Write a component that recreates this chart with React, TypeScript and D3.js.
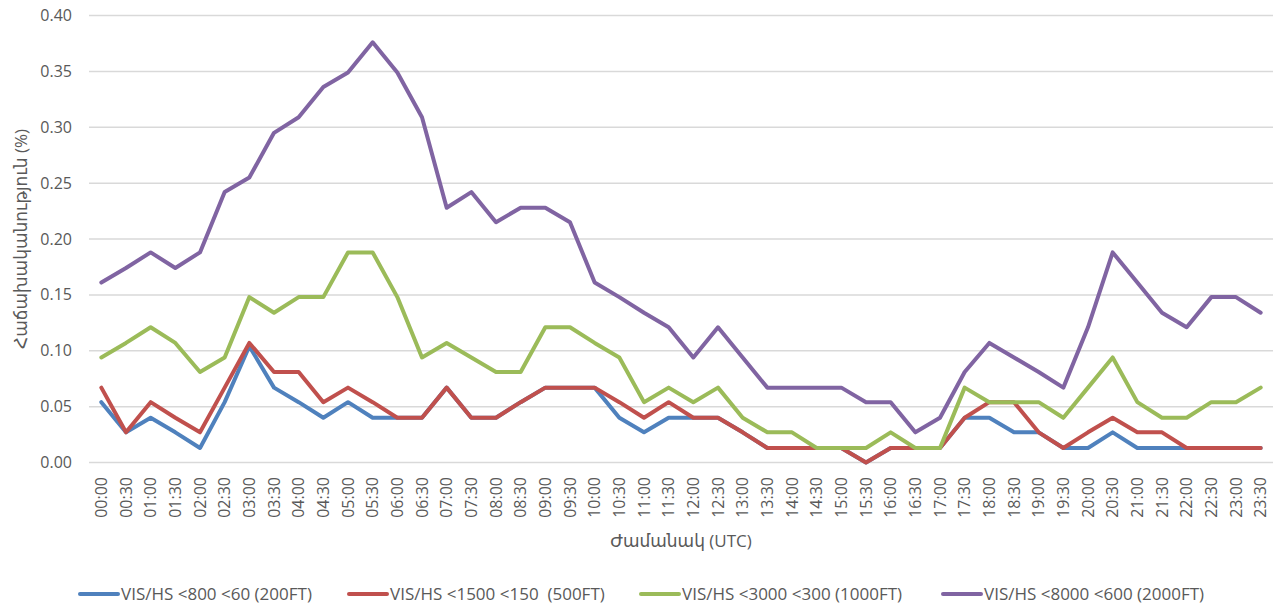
import React from 'react';
import * as d3 from 'd3';

// half-hour slots, UTC
const times = [
  '00:00', '00:30', '01:00', '01:30', '02:00', '02:30', '03:00', '03:30', '04:00', '04:30', '05:00', '05:30',
  '06:00', '06:30', '07:00', '07:30', '08:00', '08:30', '09:00', '09:30', '10:00', '10:30', '11:00', '11:30',
  '12:00', '12:30', '13:00', '13:30', '14:00', '14:30', '15:00', '15:30', '16:00', '16:30', '17:00', '17:30',
  '18:00', '18:30', '19:00', '19:30', '20:00', '20:30', '21:00', '21:30', '22:00', '22:30', '23:00', '23:30',
];

const vis800 = [
  0.054, 0.027, 0.040, 0.027, 0.013, 0.054, 0.104, 0.067, 0.054, 0.040, 0.054, 0.040,
  0.040, 0.040, 0.067, 0.040, 0.040, 0.054, 0.067, 0.067, 0.067, 0.040, 0.027, 0.040,
  0.040, 0.040, 0.027, 0.013, 0.013, 0.013, 0.013, 0.000, 0.013, 0.013, 0.013, 0.040,
  0.040, 0.027, 0.027, 0.013, 0.013, 0.027, 0.013, 0.013, 0.013, 0.013, 0.013, 0.013,
];
const vis1500 = [
  0.067, 0.027, 0.054, 0.040, 0.027, 0.067, 0.107, 0.081, 0.081, 0.054, 0.067, 0.054,
  0.040, 0.040, 0.067, 0.040, 0.040, 0.054, 0.067, 0.067, 0.067, 0.054, 0.040, 0.054,
  0.040, 0.040, 0.027, 0.013, 0.013, 0.013, 0.013, 0.000, 0.013, 0.013, 0.013, 0.040,
  0.054, 0.054, 0.027, 0.013, 0.027, 0.040, 0.027, 0.027, 0.013, 0.013, 0.013, 0.013,
];
const vis3000 = [
  0.094, 0.107, 0.121, 0.107, 0.081, 0.094, 0.148, 0.134, 0.148, 0.148, 0.188, 0.188,
  0.148, 0.094, 0.107, 0.094, 0.081, 0.081, 0.121, 0.121, 0.107, 0.094, 0.054, 0.067,
  0.054, 0.067, 0.040, 0.027, 0.027, 0.013, 0.013, 0.013, 0.027, 0.013, 0.013, 0.067,
  0.054, 0.054, 0.054, 0.040, 0.067, 0.094, 0.054, 0.040, 0.040, 0.054, 0.054, 0.067,
];
const vis8000 = [
  0.161, 0.174, 0.188, 0.174, 0.188, 0.242, 0.255, 0.295, 0.309, 0.336, 0.349, 0.376,
  0.349, 0.309, 0.228, 0.242, 0.215, 0.228, 0.228, 0.215, 0.161, 0.148, 0.134, 0.121,
  0.094, 0.121, 0.094, 0.067, 0.067, 0.067, 0.067, 0.054, 0.054, 0.027, 0.040, 0.081,
  0.107, 0.094, 0.081, 0.067, 0.121, 0.188, 0.161, 0.134, 0.121, 0.148, 0.148, 0.134,
];

const yTicks = [0, 0.05, 0.1, 0.15, 0.2, 0.25, 0.3, 0.35, 0.4];

const series = [
  { name: 'VIS/HS <800 <60 (200FT)', values: vis800, color: '#4f81bd', lx: 80 },
  { name: 'VIS/HS <1500 <150  (500FT)', values: vis1500, color: '#c0504d', lx: 349 },
  { name: 'VIS/HS <3000 <300 (1000FT)', values: vis3000, color: '#9bbb59', lx: 641 },
  { name: 'VIS/HS <8000 <600 (2000FT)', values: vis8000, color: '#8064a2', lx: 943 },
];

const W = 1287;
const H = 610;
const plot = { left: 89, right: 1273, top: 15.5, bottom: 462.5 };
const font = '"Open Sans", "DejaVu Sans", sans-serif';
const textColor = '#595959';

export default function App() {
  const x = d3.scalePoint<string>().domain(times).range([plot.left, plot.right]).padding(0.5);
  const y = d3.scaleLinear().domain([0, 0.4]).range([plot.bottom, plot.top]);

  const line = d3.line<number>()
    .x((_, i) => x(times[i]) as number)
    .y(d => y(d));

  return (
    <svg width={W} height={H} style={{ position: 'absolute', left: 0, top: 0, background: '#fff' }}
      fontFamily={font}>
      {/* grid */}
      {yTicks.map(t => (
        <g key={t}>
          <line x1={plot.left} x2={plot.right} y1={y(t)} y2={y(t)} stroke="#d9d9d9" strokeWidth={1.5} />
          <text x={72} y={y(t)} dy="0.35em" textAnchor="end" fontSize={16} fill={textColor}>
            {t.toFixed(2)}
          </text>
        </g>
      ))}

      {/* x tick labels */}
      {times.map(t => (
        <text key={t} transform={`translate(${x(t)},${477}) rotate(-90)`} dy="0.35em"
          textAnchor="end" fontSize={16} fill={textColor}>{t}</text>
      ))}

      {/* series */}
      {series.map(s => (
        <path key={s.name} d={line(s.values) || ''} fill="none" stroke={s.color} strokeWidth={4}
          strokeLinejoin="round" strokeLinecap="round" />
      ))}

      {/* axis titles */}
      <text x={(plot.left + plot.right) / 2} y={547} textAnchor="middle" fontSize={17} fill={textColor}>
        Ժամանակ (UTC)
      </text>
      <text transform={`translate(21,${(plot.top + plot.bottom) / 2}) rotate(-90)`} dy="0.35em"
        textAnchor="middle" fontSize={17} fill={textColor}>
        Հաճախականություն (%)
      </text>

      {/* legend */}
      {series.map(s => (
        <g key={s.name} transform={`translate(${s.lx},594)`}>
          <line x1={0} x2={38} y1={0} y2={0} stroke={s.color} strokeWidth={4} strokeLinecap="round" />
          <text x={41} y={0} dy="0.35em" fontSize={17} fill={textColor} style={{ whiteSpace: 'pre' }}>
            {s.name}
          </text>
        </g>
      ))}
    </svg>
  );
}
